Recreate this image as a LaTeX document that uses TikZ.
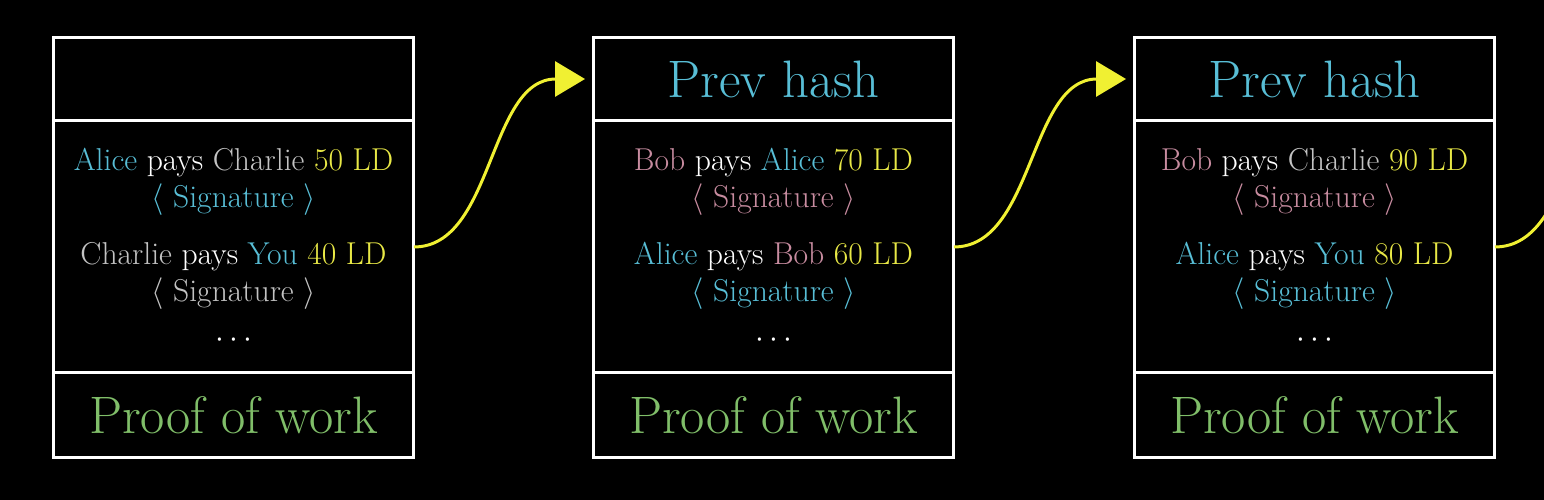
\documentclass[tikz,border=0pt]{standalone}
\usepackage{fix-cm}
\usepackage{fontspec}
\usepackage{tikz}
\usetikzlibrary{arrows.meta,calc,positioning}

\definecolor{hashblue}{RGB}{88,190,214}
\definecolor{bobpink}{RGB}{200,140,160}
\definecolor{ldyellow}{RGB}{232,232,70}
\definecolor{powgreen}{RGB}{128,190,105}
\definecolor{charliegrey}{RGB}{195,195,195}
\definecolor{arrowyellow}{RGB}{240,240,50}

\newcommand{\Alice}{\textcolor{hashblue}{Alice}}
\newcommand{\Bob}{\textcolor{bobpink}{Bob}}
\newcommand{\Charlie}{\textcolor{charliegrey}{Charlie}}
\newcommand{\You}{\textcolor{hashblue}{You}}
\newcommand{\pays}{\textcolor{white}{pays}}
\newcommand{\amount}[1]{\textcolor{ldyellow}{#1 LD}}
\newcommand{\sig}[1]{\textcolor{#1}{$\langle$ Signature $\rangle$}}

\begin{document}
\begin{tikzpicture}[x=0.02cm,y=-0.02cm,
    blockpart/.style={draw=white,line width=1.7pt,minimum width=7.22cm,inner sep=0,outer sep=0},
    bigtext/.style={font=\fontsize{30}{36}\selectfont},
    txt/.style={font=\fontsize{18}{22}\selectfont,inner sep=0,anchor=base},
    chain/.style={draw=arrowyellow,line width=1.7pt,-{Triangle[length=0.6cm,width=0.7cm]},shorten >=0.16cm}]
        \useasboundingbox (0,0) rectangle (1544,500);
        \fill[black] (0,0) rectangle (1544,500);
        \clip (0,0) rectangle (1544,500);
        % Draw the three blocks
        \node[blockpart,minimum height=1.68cm] (b1head) at (233.5,79) {};
        \node[blockpart,minimum height=5.04cm,below=0pt of b1head] (b1body) {};
        \node[blockpart,minimum height=1.7cm,below=0pt of b1body] (b1foot) {};
        \node[blockpart,minimum height=1.68cm] (b2head) at (773.5,79) {};
        \node[blockpart,minimum height=5.04cm,below=0pt of b2head] (b2body) {};
        \node[blockpart,minimum height=1.7cm,below=0pt of b2body] (b2foot) {};
        \node[blockpart,minimum height=1.68cm] (b3head) at (1314.5,79) {};
        \node[blockpart,minimum height=5.04cm,below=0pt of b3head] (b3body) {};
        \node[blockpart,minimum height=1.7cm,below=0pt of b3body] (b3foot) {};
        % Headers and proof of work
        \node[bigtext,text=hashblue] (h2) at (b2head) {Prev hash};
        \node[bigtext,text=hashblue] (h3) at (b3head) {Prev hash};
        \node[bigtext,text=powgreen] (p1) at (b1foot) {Proof of work};
        \node[bigtext,text=powgreen] (p2) at (b2foot) {Proof of work};
        \node[bigtext,text=powgreen] (p3) at (b3foot) {Proof of work};
        % Transactions of block 1
        \node[txt] (t1a) at (233.5,170) {\Alice\ \pays\ \Charlie\ \amount{50}};
        \node[txt] (s1a) at (233.5,207) {\sig{hashblue}};
        \node[txt] (t1b) at (233.5,264) {\Charlie\ \pays\ \You\ \amount{40}};
        \node[txt] (s1b) at (233.5,301) {\sig{charliegrey}};
        \node[txt,text=white] (d1) at (233.5,347) {$\cdots$};
        % Transactions of block 2
        \node[txt] (t2a) at (773.5,170) {\Bob\ \pays\ \Alice\ \amount{70}};
        \node[txt] (s2a) at (773.5,207) {\sig{bobpink}};
        \node[txt] (t2b) at (773.5,264) {\Alice\ \pays\ \Bob\ \amount{60}};
        \node[txt] (s2b) at (773.5,301) {\sig{hashblue}};
        \node[txt,text=white] (d2) at (773.5,347) {$\cdots$};
        % Transactions of block 3
        \node[txt] (t3a) at (1314.5,170) {\Bob\ \pays\ \Charlie\ \amount{90}};
        \node[txt] (s3a) at (1314.5,207) {\sig{bobpink}};
        \node[txt] (t3b) at (1314.5,264) {\Alice\ \pays\ \You\ \amount{80}};
        \node[txt] (s3b) at (1314.5,301) {\sig{hashblue}};
        \node[txt,text=white] (d3) at (1314.5,347) {$\cdots$};
        % Links between blocks
        \coordinate (next) at (1675,79);
        \draw[chain] (b1body.east) .. controls +(80,0) and +(-105,0) .. (b2head.west);
        \draw[chain] (b2body.east) .. controls +(80,0) and +(-105,0) .. (b3head.west);
        \draw[chain] (b3body.east) .. controls +(80,0) and +(-105,0) .. (next);
      \end{tikzpicture}
\end{document}
